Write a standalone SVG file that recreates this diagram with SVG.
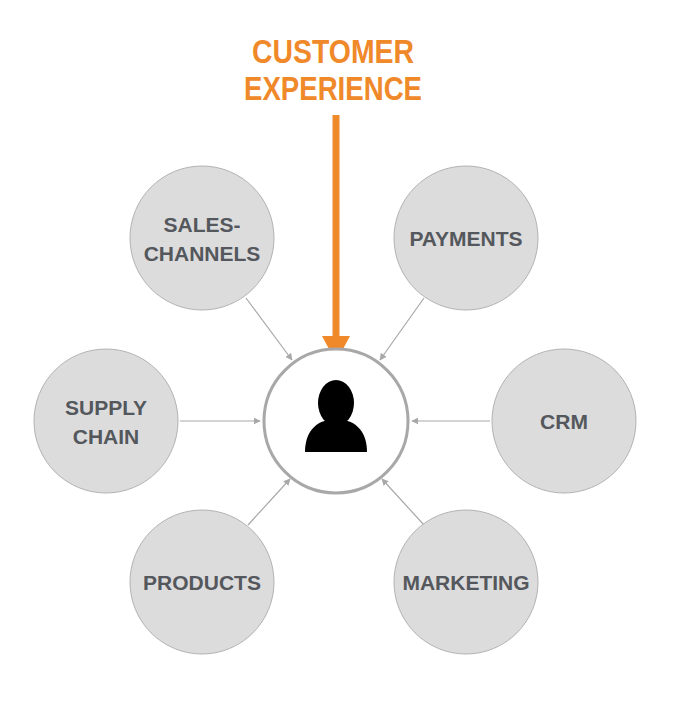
<svg xmlns="http://www.w3.org/2000/svg" width="682" height="706" viewBox="0 0 682 706">
<style>
.sat{fill:#dcdcdd;stroke:#b3b3b3;stroke-width:1}
.lbl{font-family:"Liberation Sans",Arial,sans-serif;font-weight:bold;font-size:21px;fill:#54575c;text-anchor:middle}
.ttl{font-family:"Liberation Sans",Arial,sans-serif;font-weight:bold;font-size:33px;fill:#f0892a;text-anchor:middle}
.con{stroke:#a8a8a8;stroke-width:1.2;fill:none;marker-end:url(#ah)}
</style>
<defs>
<marker id="ah" viewBox="0 0 10 10" refX="9" refY="5" markerWidth="7" markerHeight="7" orient="auto" markerUnits="userSpaceOnUse"><path d="M0,0L10,5L0,10z" fill="#a8a8a8"/></marker>
</defs>
<g id="title">
<text class="ttl" x="333" y="63" textLength="162" lengthAdjust="spacingAndGlyphs">CUSTOMER</text>
<text class="ttl" x="333" y="100" textLength="178" lengthAdjust="spacingAndGlyphs">EXPERIENCE</text>
</g>
<g id="connectors">
<line x1="336" y1="115" x2="336" y2="340" stroke="#f0892a" stroke-width="7"/>
<path d="M322,336L350,336L336,362z" fill="#f0892a"/>
<line class="con" x1="246" y1="298" x2="292" y2="360"/>
<line class="con" x1="424" y1="298" x2="380" y2="360"/>
<line class="con" x1="180" y1="421" x2="260" y2="421"/>
<line class="con" x1="490" y1="421" x2="412" y2="421"/>
<line class="con" x1="248" y1="525" x2="290" y2="479"/>
<line class="con" x1="424" y1="525" x2="382" y2="479"/>
</g>
<g id="center">
<circle cx="336" cy="421" r="72" fill="#fff" stroke="#a8a8a8" stroke-width="3"/>
<ellipse cx="336" cy="403" rx="18" ry="23" fill="#000"/>
<path d="M305,452C305,432 316,422 328,420L344,420C356,422 367,432 367,452Z" fill="#000"/>
</g>
<g id="sales"><circle class="sat" cx="202" cy="238" r="72"/><text class="lbl" x="202" y="232">SALES-</text><text class="lbl" x="202" y="261">CHANNELS</text></g>
<g id="payments"><circle class="sat" cx="466" cy="238" r="72"/><text class="lbl" x="466" y="246">PAYMENTS</text></g>
<g id="supply"><circle class="sat" cx="106" cy="421" r="72"/><text class="lbl" x="106" y="415">SUPPLY</text><text class="lbl" x="106" y="444">CHAIN</text></g>
<g id="crm"><circle class="sat" cx="564" cy="421" r="72"/><text class="lbl" x="564" y="429">CRM</text></g>
<g id="products"><circle class="sat" cx="202" cy="582" r="72"/><text class="lbl" x="202" y="590">PRODUCTS</text></g>
<g id="marketing"><circle class="sat" cx="466" cy="582" r="72"/><text class="lbl" x="466" y="590">MARKETING</text></g>
</svg>
